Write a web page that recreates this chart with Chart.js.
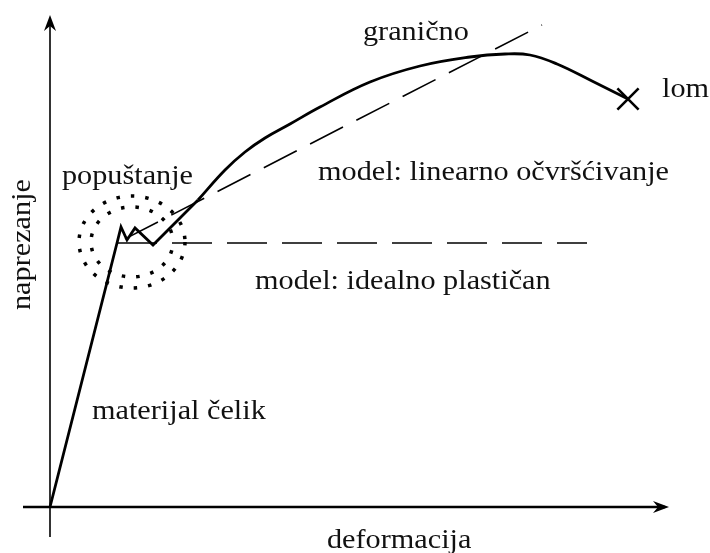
<!DOCTYPE html>
<html>
<head>
<meta charset="utf-8">
<script src="https://cdn.jsdelivr.net/npm/chart.js@4/dist/chart.umd.min.js"></script>
<style>
  html, body { margin: 0; padding: 0; background: #ffffff; }
  #wrap { width: 710px; height: 553px; }
</style>
</head>
<body>
<div id="wrap"><canvas id="c" width="710" height="553"></canvas></div>
<script>
// ---- data (strain in %, stress in arbitrary units) ----
const elasticYieldStrain = [0, 3.35, 3.55, 3.85, 4.25, 5.15, 7.4];
const elasticYieldStress = [0, 264, 280, 267, 279, 262, 307];

const hardeningStrain = [7.4, 8.75, 9.75, 10.75, 12.0, 13.5, 16.0, 18.5, 21.0, 22.75, 24.0, 25.35, 27.1, 28.9];
const hardeningStress = [307, 337, 355, 369, 383, 400, 425, 441, 450, 453, 452, 443, 426, 408];

const fractureStrain = [28.9];
const fractureStress = [408];

const idealPlasticStrain = [3.35, 26.85];
const idealPlasticStress = [264, 264];

const linearHardeningStrain = [3.35, 24.6];
const linearHardeningStress = [264, 482];

const axisTitleX = "deformacija";
const axisTitleY = "naprezanje";
const annotationTexts = ["popuštanje", "granično", "lom", "model: linearno očvršćivanje", "model: idealno plastičan", "materijal čelik"];

const toPts = (xs, ys) => xs.map((x, i) => ({ x: x, y: ys[i] }));

const INK = '#000000';
const FONT = '27px "Liberation Serif", "Times New Roman", serif';
const STRETCH = 1.12;

function drawText(ctx, txt, x, y, rot) {
  ctx.save();
  ctx.translate(x, y);
  if (rot) ctx.rotate(rot);
  ctx.scale(STRETCH, 1);
  ctx.font = FONT;
  ctx.fillStyle = '#111111';
  ctx.textBaseline = 'alphabetic';
  ctx.textAlign = 'left';
  ctx.fillText(txt, 0, 0);
  ctx.restore();
}

const decorPlugin = {
  id: 'decor',
  beforeDatasetsDraw(chart) {
    const ctx = chart.ctx;
    const xs = chart.scales.x, ys = chart.scales.y;
    const ox = xs.getPixelForValue(0), oy = ys.getPixelForValue(0);
    ctx.save();
    ctx.strokeStyle = INK;
    ctx.fillStyle = INK;
    // x axis
    const xEnd = xs.getPixelForValue(30.95);
    ctx.lineWidth = 2.6;
    ctx.beginPath();
    ctx.moveTo(xs.getPixelForValue(-1.35), oy);
    ctx.lineTo(xEnd - 4, oy);
    ctx.stroke();
    ctx.beginPath();
    ctx.moveTo(xEnd, oy);
    ctx.lineTo(xEnd - 16, oy - 6);
    ctx.lineTo(xEnd - 11, oy);
    ctx.lineTo(xEnd - 16, oy + 6);
    ctx.closePath();
    ctx.fill();
    // y axis
    const yEnd = ys.getPixelForValue(492);
    ctx.lineWidth = 1.6;
    ctx.beginPath();
    ctx.moveTo(ox, ys.getPixelForValue(-30));
    ctx.lineTo(ox, yEnd + 4);
    ctx.stroke();
    ctx.beginPath();
    ctx.moveTo(ox, yEnd);
    ctx.lineTo(ox - 6, yEnd + 16);
    ctx.lineTo(ox, yEnd + 11);
    ctx.lineTo(ox + 6, yEnd + 16);
    ctx.closePath();
    ctx.fill();

    // dotted rings around the yield zone
    const cx = xs.getPixelForValue(4.1), cy = ys.getPixelForValue(265);
    ctx.lineWidth = 3.5;
    ctx.lineCap = 'butt';
    ctx.setLineDash([3.5, 11]);
    ctx.beginPath();
    ctx.ellipse(cx, cy, 53, 46, 0, 0, Math.PI * 2);
    ctx.stroke();
    ctx.lineDashOffset = 6;
    ctx.beginPath();
    ctx.ellipse(cx, cy, 41, 35, 0, 0, Math.PI * 2);
    ctx.stroke();
    ctx.restore();
  },
  afterDraw(chart) {
    const ctx = chart.ctx;
    drawText(ctx, annotationTexts[0], 62, 184);
    drawText(ctx, annotationTexts[1], 363, 40);
    drawText(ctx, annotationTexts[2], 662, 97);
    drawText(ctx, annotationTexts[3], 318, 180);
    drawText(ctx, annotationTexts[4], 255, 289);
    drawText(ctx, annotationTexts[5], 92, 419);
    drawText(ctx, axisTitleX, 327, 548);
    drawText(ctx, axisTitleY, 30, 310, -Math.PI / 2);
  }
};

new Chart(document.getElementById('c'), {
  type: 'scatter',
  data: {
    datasets: [
      {
        label: 'idealno plastičan',
        data: toPts(idealPlasticStrain, idealPlasticStress),
        showLine: true, borderColor: INK, borderWidth: 1.6,
        borderDash: [40, 15], borderDashOffset: 0,
        pointRadius: 0, tension: 0
      },
      {
        label: 'linearno očvršćivanje',
        data: toPts(linearHardeningStrain, linearHardeningStress),
        showLine: true, borderColor: INK, borderWidth: 1.6,
        borderDash: [37, 15], borderDashOffset: 43,
        pointRadius: 0, tension: 0
      },
      {
        label: 'elastično + popuštanje',
        data: toPts(elasticYieldStrain, elasticYieldStress),
        showLine: true, borderColor: INK, borderWidth: 2.8,
        borderJoinStyle: 'miter',
        pointRadius: 0, tension: 0
      },
      {
        label: 'očvršćivanje',
        data: toPts(hardeningStrain, hardeningStress),
        showLine: true, borderColor: INK, borderWidth: 2.8,
        tension: 0.4,
        pointRadius: 0
      },
      {
        label: 'lom',
        data: toPts(fractureStrain, fractureStress),
        showLine: false, pointStyle: 'crossRot',
        pointRadius: 15, pointBorderWidth: 2.6,
        pointBorderColor: INK, pointBackgroundColor: INK
      }
    ]
  },
  options: {
    responsive: false,
    animation: false,
    devicePixelRatio: 1,
    layout: { padding: 0, autoPadding: false },
    plugins: { legend: { display: false }, tooltip: { enabled: false } },
    scales: {
      x: { type: 'linear', display: false, min: -2.5, max: 33 },
      y: { type: 'linear', display: false, min: -46, max: 507 }
    }
  },
  plugins: [decorPlugin]
});
</script>
</body>
</html>
